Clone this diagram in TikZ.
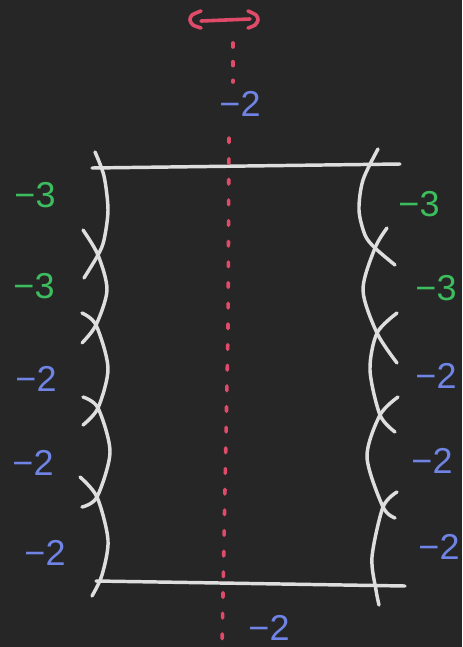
\documentclass[tikz,border=0pt]{standalone}
\usepackage{fontspec}
\setmainfont{Liberation Sans}
\usepackage{xcolor}
\usetikzlibrary{positioning}
\definecolor{board}{HTML}{262626}
\definecolor{chalk}{HTML}{DEDEDE}
\definecolor{cutred}{HTML}{E04B69}
\definecolor{wgreen}{HTML}{3DBE5E}
\definecolor{wblue}{HTML}{6F84E4}

\begin{document}
\begin{tikzpicture}[x=0.75pt,y=-0.75pt,
  curve/.style={chalk,line width=2.6pt,line cap=round},
  cut/.style={cutred,line width=2.7pt,line cap=round},
  wt/.style={font=\fontsize{27}{27}\selectfont,inner sep=0pt}]
  \fill[board] (0,0) rectangle (462,647);
  \useasboundingbox (0,0) rectangle (462,647);
  % the two ends of the box
  \draw[curve] (92,168) -- (400,164);
  \draw[curve] (96,581) -- (405,586);
  % left chain
  \draw[curve] plot[smooth] coordinates {(95,152) (104,176) (108,210) (104,240) (98,255) (84,278)};
  \draw[curve] plot[smooth] coordinates {(83,230) (98,255) (107,290) (96,325) (82,343)};
  \draw[curve] plot[smooth] coordinates {(82,313) (96,325) (108,368) (98,408) (83,425)};
  \draw[curve] plot[smooth] coordinates {(83,397) (98,408) (110,452) (97,497) (82,507)};
  \draw[curve] plot[smooth] coordinates {(80,477) (97,497) (108,540) (102,575) (92,596)};
  % right chain
  \draw[curve] plot[smooth] coordinates {(378,149) (363,180) (359,210) (365,235) (375,248) (395,265)};
  \draw[curve] plot[smooth] coordinates {(387,228) (375,248) (363,290) (377,333) (397,363)};
  \draw[curve] plot[smooth] coordinates {(397,313) (377,333) (370,370) (380,415) (395,432)};
  \draw[curve] plot[smooth] coordinates {(398,397) (380,415) (367,457) (383,507) (395,518)};
  \draw[curve] plot[smooth] coordinates {(397,492) (383,507) (372,557) (376,590) (379,605)};
  % red cut
  \draw[cut] plot[smooth] coordinates {(201,11) (192,15) (190,20) (193,25) (201,28)};
  \draw[cut] plot[smooth] coordinates {(248,11) (256,15) (258,20) (255,25) (248,28)};
  \draw[cut] (201,21) -- (250,19);
  \draw[cut,dash pattern=on 3pt off 11pt] (233,43) -- (233,82);
  \draw[cut,dash pattern=on 3.5pt off 12pt] (229,138) -- (228,330) -- (222,647);
  % weights
  \foreach \n/\x/\y in {l1/35/195,l2/34/286,r1/419/204,r2/436/288}
    \node[wt,text=wgreen] (\n) at (\x,\y) {−3};
  \foreach \n/\x/\y in {l3/36/379,l4/33/463,l5/45/553,r3/436/376,r4/432/461,r5/439/547,top/240/104,bot/269/628}
    \node[wt,text=wblue] (\n) at (\x,\y) {−2};
\end{tikzpicture}
\end{document}
